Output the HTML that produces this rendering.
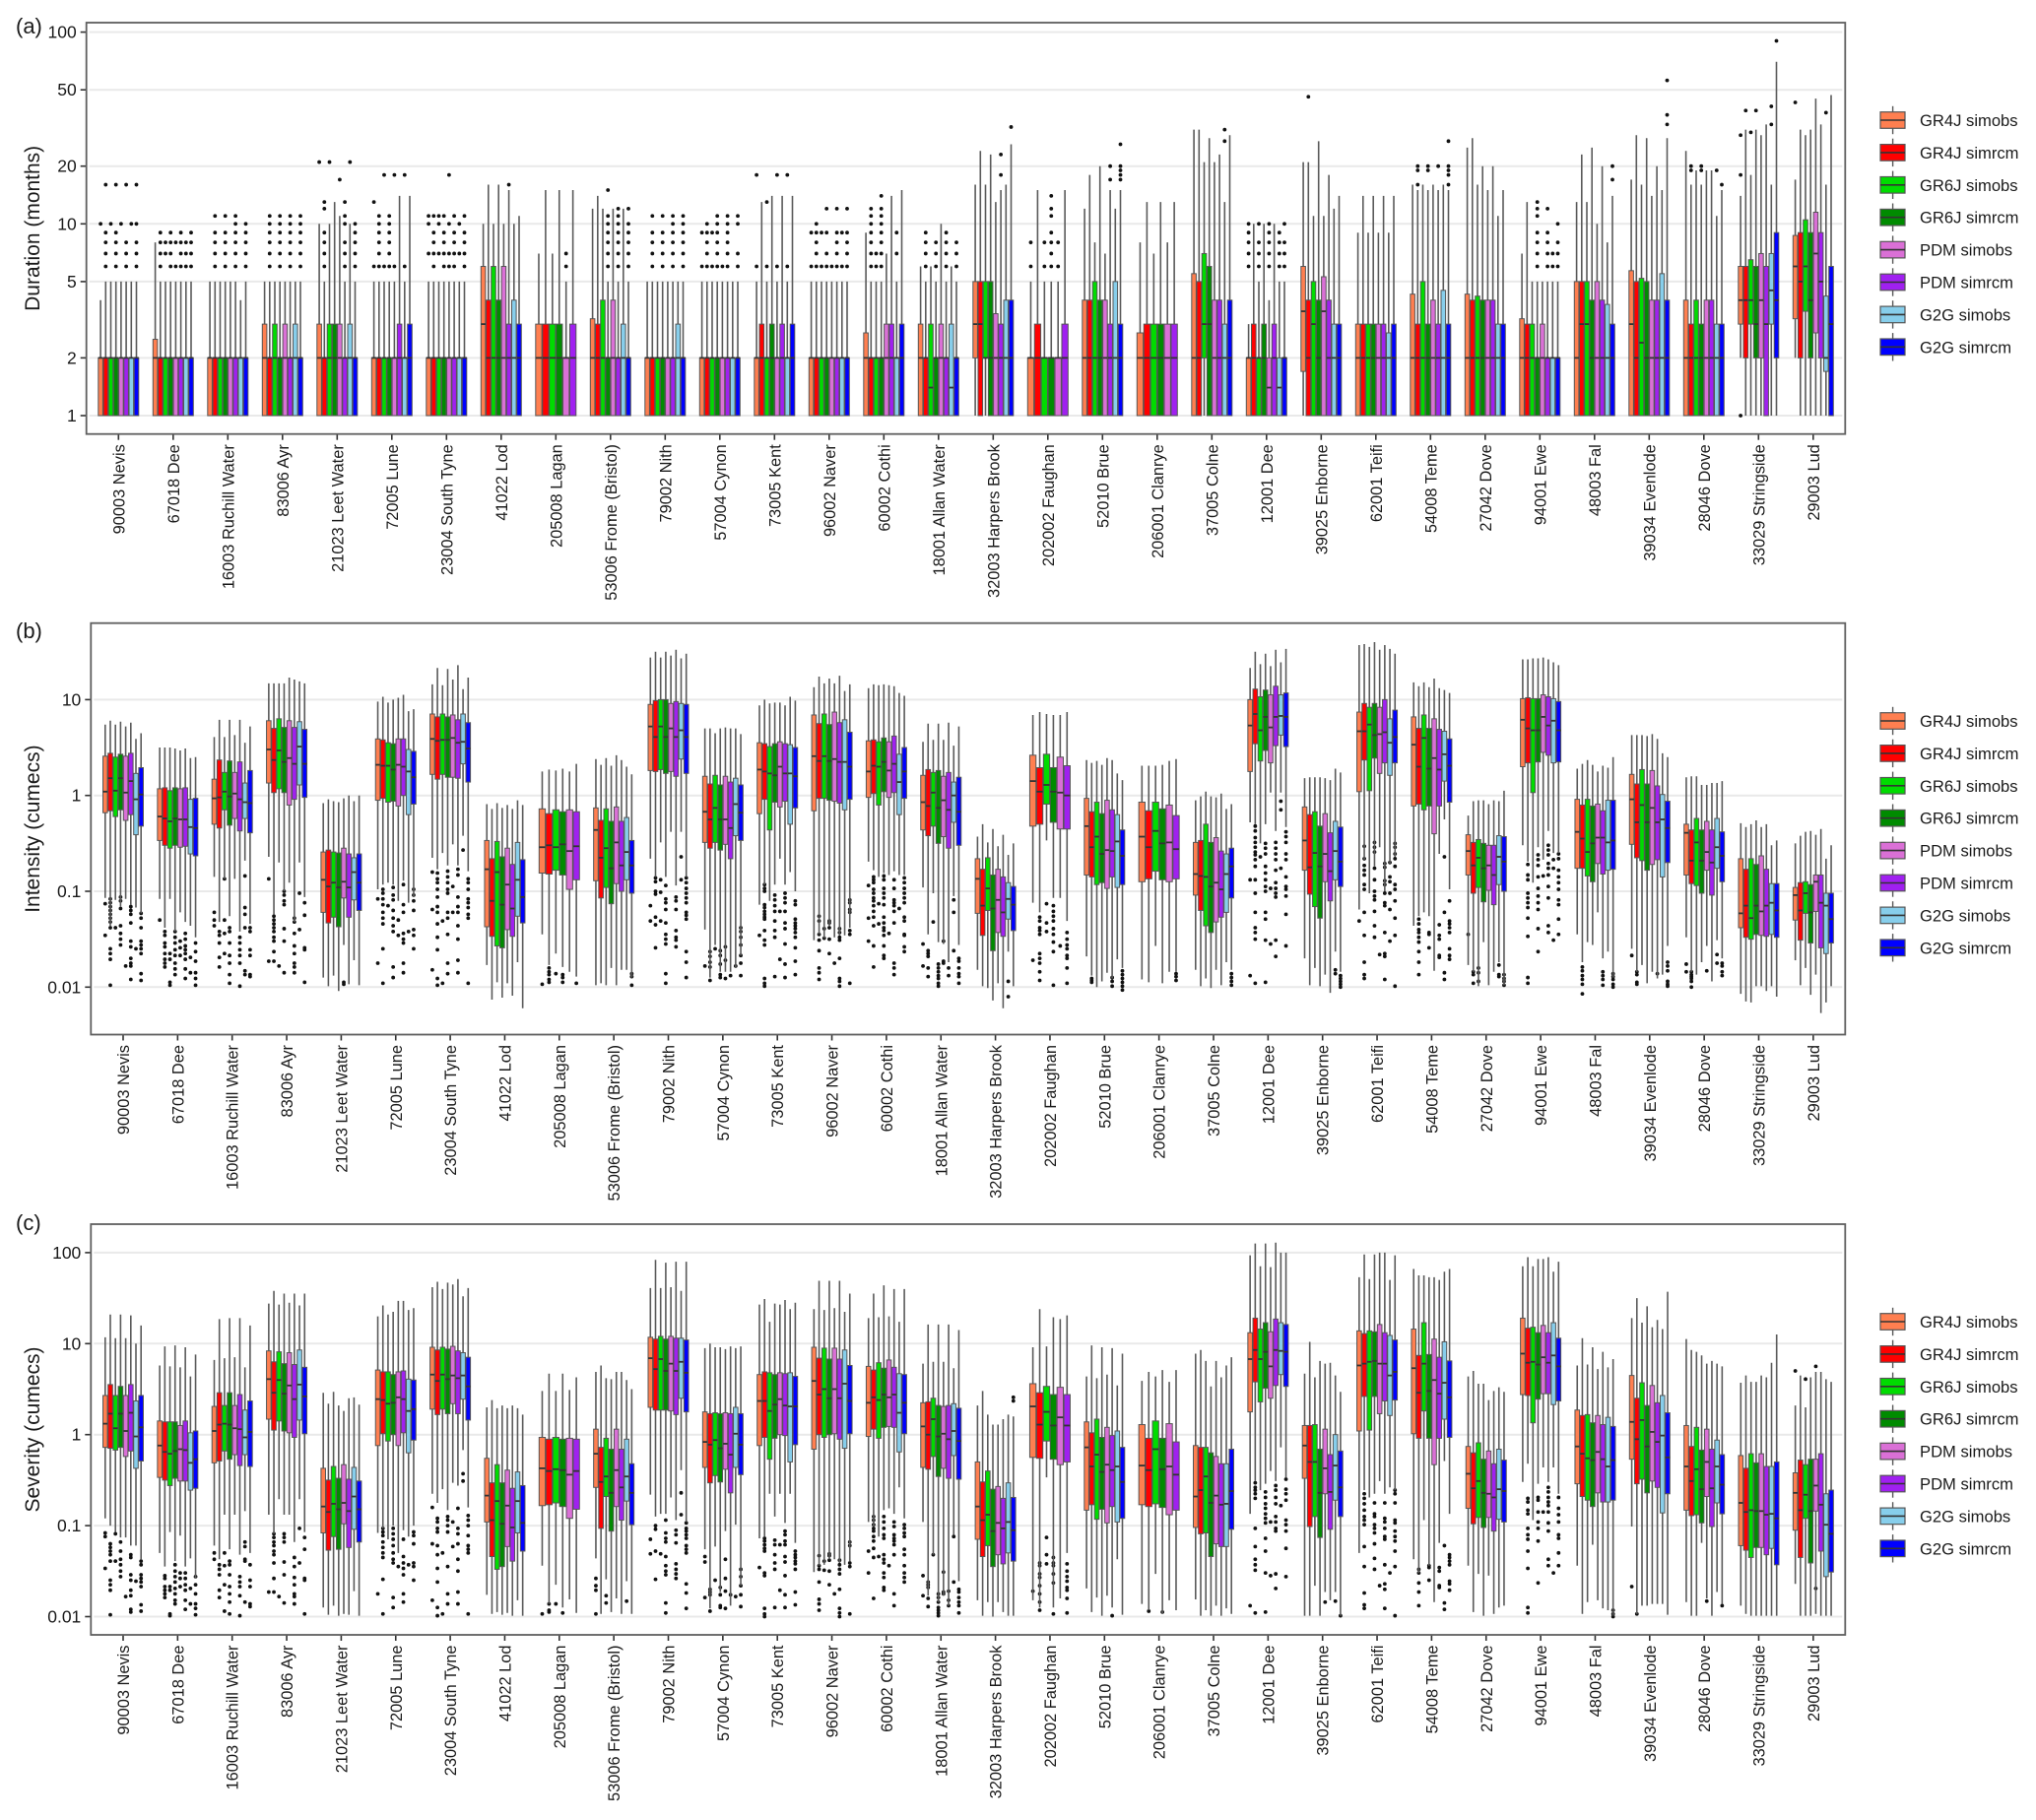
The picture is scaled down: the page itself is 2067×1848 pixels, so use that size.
<!DOCTYPE html>
<html lang="en">
<head>
<meta charset="utf-8">
<title>Drought duration, intensity and severity by catchment</title>
<style>
html,body{margin:0;padding:0;background:#fff;}
body{width:2067px;height:1848px;overflow:hidden;}
svg{display:block;font-family:"Liberation Sans",Arial,sans-serif;}
</style>
</head>
<body>
<svg id="chart" xmlns="http://www.w3.org/2000/svg" width="2067" height="1848" viewBox="0 0 2067 1848"></svg>
<script>
const catchments=["90003 Nevis","67018 Dee","16003 Ruchill Water","83006 Ayr","21023 Leet Water","72005 Lune","23004 South Tyne","41022 Lod","205008 Lagan","53006 Frome (Bristol)","79002 Nith","57004 Cynon","73005 Kent","96002 Naver","60002 Cothi","18001 Allan Water","32003 Harpers Brook","202002 Faughan","52010 Brue","206001 Clanrye","37005 Colne","12001 Dee","39025 Enborne","62001 Teifi","54008 Teme","27042 Dove","94001 Ewe","48003 Fal","39034 Evenlode","28046 Dove","33029 Stringside","29003 Lud"];
const models=["GR4J simobs","GR4J simrcm","GR6J simobs","GR6J simrcm","PDM simobs","PDM simrcm","G2G simobs","G2G simrcm"];
const modelColors=["#ff7f50","#ff0000","#00dc00","#008b00","#da70d6","#a020f0","#87ceeb","#0000ff"];
const durationTicks=[1,2,5,10,20,50,100];
const intensityTicks=[0.01,0.1,1,10];
const severityTicks=[0.01,0.1,1,10,100];

/* (a) Duration, months */
const durHi=[[4,5,5,5,5,5,5,5],[8,5,5,5,5,5,5,5],[5,5,5,5,5,5,4,5],[5,5,5,5,5,5,5,5],[10,5,10,13,11,5,10,5],[5,5,5,5,5,14,5,14],[5,5,5,5,5,5,5,5],[10,16,10,16,10,15,10,11],[7,15,7,15,5,15],[12,14,12,5,12,5,12,5],[5,5,5,5,5,5,5,5],[5,5,5,5,5,5,5,5],[5,13,5,14,5,14,5,14],[5,5,5,5,5,5,5,5],[9,5,5,5,7,14,5,15],[6,5,6,5,10,5,6,5],[16,24,16,23,13,15,16,26],[5,15,5,5,5,15],[12,18,8,20,7,15,12,15],[8,13,7,13,8,13],[31,31,21,28,21,23,13,29],[3,10,5,10,4,10,5,5],[21,21,11,27,11,18,12,14],[9,14,9,14,9,14,9,14],[16,15,16,15,16,15,16,15],[25,28,16,20,15,20,11,15],[7,13,5,5,5,5,5,5],[13,23,13,25,10,20,8,14],[17,29,16,28,14,20,15,28],[24,16,19,16,19,19,11,15],[14,31,18,31,29,33,16,70],[17,31,29,31,45,33,16,47]];
const durQ3=[[2,2,2,2,2,2,2,2],[2.5,2,2,2,2,2,2,2],[2,2,2,2,2,2,2,2],[3,2,3,2,3,2,3,2],[3,2,3,3,3,2,3,2],[2,2,2,2,2,3,2,3],[2,2,2,2,2,2,2,2],[6,4,6,4,6,3,4,3],[3,3,3,3,2,3],[3.2,3,4,2,4,2,3,2],[2,2,2,2,2,2,3,2],[2,2,2,2,2,2,2,2],[2,3,2,3,2,3,2,3],[2,2,2,2,2,2,2,2],[2.7,2,2,2,3,3,2,3],[3,2,3,2,3,2,3,2],[5,5,5,5,3.4,3,4,4],[2,3,2,2,2,3],[4,4,5,4,4,3,5,3],[2.7,3,3,3,3,3],[5.5,5,7,6,4,4,3,4],[2,3,2,3,2,3,2,2],[6,4,5,4,5.3,4,3,3],[3,3,3,3,3,3,2.7,3],[4.3,3,5,3,4,3,4.5,3],[4.3,4,4.2,4,4,4,3,3],[3.2,3,3,2,3,2,2,2],[5,5,5,4,5,4,3.8,3],[5.7,5,5.2,5,4,4,5.5,4],[4,3,4,3,4,4,3,3],[6,6,6.5,6,7,6,7,9],[8.7,9,10.5,9,11.5,9,4.2,6]];
const durMed=[[2,2,2,2,2,2,2,2],[2,2,2,2,2,2,2,2],[2,2,2,2,2,2,2,2],[2,2,2,2,2,2,2,2],[2,2,2,2,2,2,2,2],[2,2,2,2,2,2,2,2],[2,2,2,2,2,2,2,2],[3,2,2,2,2,2,2,2],[2,2,2,2,2,2],[2,2,2,2,2,2,2,2],[2,2,2,2,2,2,2,2],[2,2,2,2,2,2,2,2],[2,2,2,2,2,2,2,2],[2,2,2,2,2,2,2,2],[2,2,2,2,2,2,2,2],[2,2,1.4,2,2,2,1.4,2],[3,3,2,2,2,2,2,2],[2,2,2,2,2,2],[2,2,2,2,2,2,2,2],[2,2,2,2,2,2],[2,2,3,3,2,2,2,2],[2,2,2,2,1.4,2,1.4,2],[3.5,2,3,2,3.5,2,2,2],[2,2,2,2,2,2,2,2],[2,2,2,2,2,2,2,2],[2,2,2,2,2,2,2,2],[2,2,2,2,2,2,2,2],[2,3,3,2,2,2,2,2],[3,2,2.4,2,2,2,2,2],[2,2,2,2,2,2,2,2],[4,4,4,3,4,3,4.5,4],[6,5,6,4,7,5,2,3]];
const durQ1=[[1,1,1,1,1,1,1,1],[1,1,1,1,1,1,1,1],[1,1,1,1,1,1,1,1],[1,1,1,1,1,1,1,1],[1,1,1,1,1,1,1,1],[1,1,1,1,1,1,1,1],[1,1,1,1,1,1,1,1],[1,1,1,1,1,1,1,1],[1,1,1,1,1,1],[1,1,1,1,1,1,1,1],[1,1,1,1,1,1,1,1],[1,1,1,1,1,1,1,1],[1,1,1,1,1,1,1,1],[1,1,1,1,1,1,1,1],[1,1,1,1,1,1,1,1],[1,1,1,1,1,1,1,1],[2,1,2,1,1,1,1,1],[1,1,1,1,1,1],[1,1,1,1,1,1,1,1],[1,1,1,1,1,1],[1,1,2,1,1,1,1,1],[1,1,1,1,1,1,1,1],[1.7,1,1,1,1,1,1,1],[1,1,1,1,1,1,1,1],[1,1,1,1,1,1,1,1],[1,1,1,1,1,1,1,1],[1,1,1,1,1,1,1,1],[1,1,1,1,1,1,1,1],[1,1,1,1,1,1,1,1],[1,1,1,1,1,1,1,1],[3,2,3,2,2,1,3,2],[3.2,2,3.5,2,2.7,2,1.7,1]];
const durLo=[[1,1,1,1,1,1,1,1],[1,1,1,1,1,1,1,1],[1,1,1,1,1,1,1,1],[1,1,1,1,1,1,1,1],[1,1,1,1,1,1,1,1],[1,1,1,1,1,1,1,1],[1,1,1,1,1,1,1,1],[1,1,1,1,1,1,1,1],[1,1,1,1,1,1],[1,1,1,1,1,1,1,1],[1,1,1,1,1,1,1,1],[1,1,1,1,1,1,1,1],[1,1,1,1,1,1,1,1],[1,1,1,1,1,1,1,1],[1,1,1,1,1,1,1,1],[1,1,1,1,1,1,1,1],[1,1,1,1,1,1,1,1],[1,1,1,1,1,1],[1,1,1,1,1,1,1,1],[1,1,1,1,1,1],[1,1,1,1,1,1,1,1],[1,1,1,1,1,1,1,1],[1,1,1,1,1,1,1,1],[1,1,1,1,1,1,1,1],[1,1,1,1,1,1,1,1],[1,1,1,1,1,1,1,1],[1,1,1,1,1,1,1,1],[1,1,1,1,1,1,1,1],[1,1,1,1,1,1,1,1],[1,1,1,1,1,1,1,1],[2,1,1,1,1,1,1,1],[2,1,1,1,1,1,1,1]];
const durOut=[
[[10],[16,9,8,7,6],[10],[16,9,8,7,6],[10],[16,8,7,6],[10],[16,10,8,7,6]],
[[],[9,8,7,6],[8,7],[9,8,7,6],[8,6],[9,8,7,6],[8,7,6],[9,8,7,6]],
[[],[11,9,8,7,6],[],[11,9,8,7,6],[],[11,10,9,8,7,6],[],[10,9,8,7,6]],
[[],[11,10,9,8,7,6],[],[11,10,9,8,7,6],[],[11,10,9,8,7,6],[],[11,10,9,8,7,6]],
[[21],[13,12,9,8,7,6],[21],[],[17],[13,11,10,8,7,6],[21],[10,9,8,7,6]],
[[13,6],[11,10,9,8,7,6],[18,6],[11,10,9,8,7,6],[18,6],[],[18,6],[]],
[[11,10,7],[11,9,8,7,6],[11,10,7],[11,9,8,7,6],[18,10,7,6],[11,9,8,7,6],[10,7],[11,9,8,7,6]],
[[],[],[],[],[],[16],[],[]],
[[],[],[],[],[7,6],[]],
[[],[],[],[15,11,10,9,8,7,6],[],[12,11,10,9,8,7,6],[],[12,10,9,8,7,6]],
[[],[11,9,8,7,6],[],[11,9,8,7,6],[],[11,10,9,8,7,6],[],[11,10,9,8,7,6]],
[[9,6],[10,9,8,7,6],[9,6],[11,10,9,8,7,6],[6],[11,10,9,8,7,6],[],[11,10,7,6]],
[[18,6],[],[13,6],[],[18,6],[],[18,6],[]],
[[9,6],[10,9,8,7,6],[9,6],[12,9,7,6],[6],[12,9,8,7,6],[9,6],[12,9,8,7,6]],
[[],[12,11,10,9,8,7,6],[7,6],[14,12,11,10,9,8,7,6],[],[],[9,7],[]],
[[],[9,8,7,6],[],[8,7,6],[],[9,8,7,6],[],[8,7,6]],
[[],[],[],[],[],[23,18],[],[32]],
[[8,6],[],[8,6],[14,12,11,9,8,7,6],[8,6],[]],
[[],[],[],[],[],[20,17],[],[26,20,19,18,17]],
[[],[],[],[],[],[]],
[[],[],[],[],[],[],[31,27],[]],
[[10,9,8,7,6],[],[10,8,7,6],[],[10,9,8,7,6],[],[9,8,7,6],[10,8,7,6]],
[[],[46],[],[],[],[],[],[]],
[[],[],[],[],[],[],[],[]],
[[],[20,19,16],[],[20,19],[],[20],[],[27,20,19,18,16]],
[[],[],[],[],[],[],[],[]],
[[],[],[],[13,12,11,9,8,7,6],[],[12,9,8,7,6],[7,6],[10,8,7,6]],
[[],[],[],[],[],[],[],[20,17]],
[[],[],[],[],[],[],[],[56,37,33]],
[[],[20,19],[],[20,19],[],[],[19],[16]],
[[29,18,1],[39],[30],[39],[],[],[41,33],[90]],
[[43],[],[],[],[],[],[38],[]]
];

/* (b) Intensity: all values stored as log10(cumecs) */
const intHi=[[.74,.78,.74,.77,.72,.76,.59,.65],[.5,.5,.5,.49,.47,.49,.39,.4],[.61,.79,.61,.79,.63,.79,.55,.72],[1.17,1.17,1.17,1.17,1.23,1.21,1.19,1.17],[-.08,-.04,-.06,-.07,-.03,0,-.06,0],[.98,1.03,.97,1,1.02,1.05,.88,.9],[1.16,1.33,1.15,1.32,1.21,1.36,1.11,1.23],[-.09,-.14,-.08,-.13,-.1,-.14,-.05,-.1],[.25,.27,.26,.28,.25,.33],[.38,.32,.39,.31,.42,.37,.3,.22],[1.44,1.5,1.44,1.5,1.46,1.52,1.43,1.48],[.7,.7,.65,.7,.71,.7,.7,.64],[.94,1,.96,.97,.97,.94,1.03,.99],[1.13,1.24,1.17,1.22,1.17,1.25,1.09,1.16],[1.12,1.16,1.15,1.16,1.15,1.14,1.07,1.04],[.56,.75,.58,.75,.58,.76,.52,.72],[-.43,-.3,-.49,-.35,-.53,-.41,-.62,-.5],[.84,.87,.85,.84,.84,.87],[.37,.34,.36,.32,.39,.37,.23,.16],[.31,.31,.31,.32,.36,.38],[-.05,-.01,.04,-.01,-.02,.02,-.14,-.09],[1.33,1.5,1.37,1.48,1.35,1.52,1.39,1.53],[.18,.19,.19,.19,.18,.16,.28,.24],[1.57,1.58,1.55,1.6,1.52,1.57,1.53,1.48],[1.18,1.14,1.18,1.13,1.22,1.12,1.1,1.07],[-.21,-.06,-.05,-.05,-.09,-.05,-.06,.05],[1.42,1.42,1.43,1.43,1.44,1.42,1.39,1.36],[.28,.33,.37,.32,.25,.31,.29,.4],[.63,.63,.63,.62,.64,.59,.44,.4],[.19,.2,.2,.11,.11,.13,.13,.15],[-.29,-.33,-.3,-.26,-.33,-.3,-.52,-.47],[-.5,-.42,-.38,-.37,-.41,-.35,-.66,-.52]];
const intQ3=[[.41,.44,.4,.43,.41,.44,.23,.29],[.07,.08,.05,.08,.07,.08,-.04,-.03],[.17,.37,.24,.36,.24,.35,.13,.26],[.78,.7,.8,.71,.78,.71,.77,.69],[-.59,-.57,-.59,-.6,-.55,-.61,-.65,-.61],[.59,.58,.55,.54,.59,.59,.48,.46],[.85,.82,.85,.82,.84,.79,.85,.76],[-.47,-.66,-.48,-.64,-.55,-.72,-.49,-.67],[-.14,-.19,-.15,-.17,-.15,-.17],[-.13,-.26,-.14,-.27,-.12,-.27,-.23,-.47],[.95,.99,1,1,.96,.98,.96,.95],[.2,.12,.21,.11,.2,.14,.18,.11],[.55,.54,.51,.54,.56,.54,.53,.5],[.84,.75,.85,.74,.87,.76,.79,.66],[.57,.58,.56,.6,.56,.62,.43,.5],[.21,.27,.24,.26,.2,.24,.14,.19],[-.66,-.77,-.65,-.83,-.77,-.85,-.91,-.95],[.42,.29,.43,.29,.4,.31],[-.03,-.17,-.07,-.19,-.05,-.15,-.2,-.36],[-.07,-.16,-.07,-.14,-.1,-.21],[-.49,-.47,-.3,-.49,-.44,-.58,-.61,-.55],[1,1.11,1.03,1.1,1.05,1.14,1.05,1.07],[-.12,-.2,-.17,-.32,-.19,-.39,-.27,-.33],[.87,.96,.92,.96,.92,1,.8,.89],[.82,.7,.84,.7,.8,.69,.67,.59],[-.41,-.49,-.46,-.5,-.52,-.52,-.42,-.43],[1.01,1.02,1.01,1.01,1.05,1.03,1.01,.98],[-.04,-.1,-.04,-.11,-.09,-.16,-.05,-.05],[.22,.12,.27,.12,.26,.1,.01,-.06],[-.3,-.36,-.24,-.36,-.27,-.36,-.24,-.38],[-.66,-.77,-.66,-.72,-.63,-.77,-.92,-.92],[-.96,-.91,-.9,-.93,-.83,-.83,-1.02,-1.02]];
const intMed=[[.04,.18,.05,.18,.03,.15,-.04,.01],[-.22,-.24,-.27,-.24,-.25,-.25,-.33,-.34],[-.03,-.02,.04,-.01,.02,-.04,-.07,-.08],[.48,.37,.47,.35,.39,.33,.51,.33],[-.88,-.95,-.91,-.96,-.9,-.96,-.8,-.91],[.32,.31,.31,.27,.32,.3,.25,.19],[.59,.57,.58,.58,.6,.55,.56,.49],[-.77,-1.1,-.8,-1.14,-.93,-1.18,-.88,-1.06],[-.54,-.52,-.54,-.51,-.58,-.53],[-.36,-.65,-.55,-.76,-.49,-.73,-.59,-.73],[.72,.61,.72,.61,.7,.61,.68,.61],[-.17,-.25,-.13,-.25,-.25,-.34,-.09,-.18],[.27,.25,.23,.21,.3,.23,.23,.2],[.41,.36,.41,.36,.38,.35,.35,.3],[.25,.31,.3,.35,.26,.33,.14,.25],[-.07,-.11,.03,-.13,-.05,-.15,0,-.17],[-.87,-1.15,-.97,-1.18,-1.09,-1.22,-1.08,-1.14],[.15,.04,.11,.04,.03,0],[-.32,-.54,-.43,-.61,-.57,-.58,-.48,-.63],[-.43,-.54,-.37,-.5,-.49,-.56],[-.82,-.84,-.85,-.95,-.91,-.98,-.82,-.74],[.73,.85,.68,.82,.71,.82,.83,.82],[-.47,-.75,-.6,-.74,-.61,-.79,-.58,-.69],[.67,.67,.74,.63,.64,.66,.55,.61],[.53,.3,.6,.28,.39,.27,.43,.31],[-.58,-.73,-.65,-.76,-.73,-.83,-.64,-.69],[.79,.7,.68,.68,.82,.73,.78,.68],[-.38,-.45,-.59,-.5,-.44,-.44,-.49,-.47],[-.04,-.28,-.1,-.28,-.13,-.28,-.25,-.34],[-.39,-.68,-.49,-.68,-.59,-.7,-.54,-.63],[-1.23,-1.15,-1.28,-1.15,-1.21,-1.15,-1.12,-1.2],[-1.04,-1.2,-1.02,-1.22,-.9,-1.12,-1.15,-1.29]];
const intQ1=[[-.18,-.16,-.22,-.15,-.26,-.2,-.41,-.32],[-.47,-.52,-.55,-.52,-.54,-.53,-.61,-.63],[-.3,-.34,-.15,-.31,-.24,-.37,-.24,-.39],[.13,.03,.07,.03,-.1,-.04,.11,-.02],[-1.22,-1.33,-1.27,-1.37,-1.07,-1.27,-1.09,-1.2],[-.05,-.03,-.07,-.06,-.11,0,-.2,-.09],[.22,.17,.22,.19,.19,.18,.33,.14],[-1.37,-1.47,-1.57,-1.59,-1.4,-1.47,-1.26,-1.33],[-.81,-.82,-.78,-.83,-.98,-.88],[-.89,-1.07,-.96,-1.13,-.92,-1,-.88,-1.02],[.26,.25,.27,.23,.25,.2,.38,.23],[-.49,-.55,-.49,-.57,-.51,-.66,-.42,-.47],[-.19,-.04,-.36,-.07,-.12,-.06,-.3,-.13],[-.16,-.03,-.03,-.05,-.06,-.08,-.15,-.04],[-.02,.02,-.1,.04,-.02,.03,-.2,-.03],[-.36,-.42,-.32,-.5,-.43,-.55,-.28,-.52],[-1.23,-1.46,-1.2,-1.62,-1.43,-1.47,-1.29,-1.41],[-.32,-.3,-.09,-.28,-.35,-.35],[-.83,-.85,-.93,-.91,-.97,-.85,-.96,-.93],[-.9,-.87,-.79,-.88,-.9,-.87],[-1.04,-1.2,-1.36,-1.43,-1.32,-1.27,-1.22,-1.07],[.25,.54,.36,.47,.34,.52,.63,.51],[-.78,-1.03,-1.16,-1.28,-.9,-1.1,-.88,-.95],[.04,.37,.05,.39,.23,.34,.21,.34],[-.11,-.09,-.15,-.11,-.4,-.11,.15,-.07],[-.83,-1.02,-.96,-1.11,-.99,-1.14,-.93,-1],[.3,.34,.03,.35,.45,.42,.34,.35],[-.76,-.76,-.84,-.9,-.71,-.82,-.78,-.77],[-.51,-.65,-.68,-.78,-.72,-.67,-.85,-.7],[-.83,-.92,-.94,-1.02,-.78,-1.04,-.76,-.9],[-1.38,-1.48,-1.5,-1.45,-1.46,-1.47,-1.45,-1.48],[-1.3,-1.51,-1.23,-1.54,-1.21,-1.59,-1.65,-1.54]];
const intLo=[[-1.07,-1.36,-1.09,-1.16,-1.08,-1.14,-1.17,-1.23],[-1.08,-1.38,-1.08,-1.42,-1.22,-1.32,-1.36,-1.48],[-.85,-1.32,-.87,-1.26,-.87,-1.42,-.68,-1.34],[-.64,-1.24,-.7,-1,-.91,-1.32,-.7,-1.06],[-1.9,-1.99,-1.88,-2.04,-1.56,-1.97,-1.72,-1.98],[-.98,-.93,-.91,-.93,-1.1,-.89,-1.12,-1.06],[-.65,-.77,-.6,-.73,-.51,-.73,-.42,-.79],[-1.77,-2.13,-1.95,-2.11,-1.96,-2.09,-1.74,-2.22],[-1.45,-1.77,-1.65,-1.79,-1.84,-1.89],[-1.98,-1.96,-1.98,-1.8,-1.98,-1.82,-1.82,-1.9],[-.66,-.85,-.49,-.85,-.38,-.94,-.38,-.85],[-1.4,-1.9,-1.56,-1.84,-1.84,-1.84,-1.8,-1.67],[-1.14,-.93,-1.1,-.93,-.66,-.93,-.8,-1],[-1.51,-1.45,-1.49,-1.36,-1.48,-1.46,-1.46,-1.38],[-.69,-.78,-.85,-.81,-.83,-.79,-.83,-.83],[-.96,-1.45,-1.02,-1.53,-1.55,-1.74,-1.05,-1.56],[-1.82,-1.99,-2.01,-2.14,-1.96,-2.22,-1.63,-1.99],[-1.12,-1.22,-.47,-1.07,-1.07,-1.31],[-1.68,-1.88,-2,-1.94,-1.85,-1.91,-1.71,-1.8],[-1.92,-1.95,-1.57,-1.96,-1.84,-1.84],[-1.82,-1.99,-1.91,-2.01,-1.82,-1.98,-1.74,-1.82],[-.28,-.3,-.5,-.3,.03,-.37,.03,-.33],[-1.7,-1.98,-1.8,-1.99,-1.87,-2.06,-1.63,-1.84],[-1.19,-.67,-1.02,-.74,-.54,-1,-.71,-.64],[-1.36,-1.26,-1.22,-1.26,-1.83,-.61,-.25,-.98],[-1.77,-1.84,-1.99,-1.53,-1.98,-1.84,-1.74,-1.98],[-.52,-.69,-.91,-.54,-.67,-.37,-.6,-.6],[-1.45,-1.74,-1.53,-1.56,-1.22,-1.7,-1.63,-1.9],[-1.6,-1.84,-1.77,-1.96,-1.84,-1.91,-1.87,-1.57],[-1.48,-1.84,-1.87,-1.74,-1.57,-1.94,-1.51,-1.7],[-2.07,-2.15,-2.16,-1.99,-1.99,-2.04,-1.99,-2.1],[-1.72,-1.98,-1.8,-2.08,-1.87,-2.27,-2.16,-1.99]];
const intOut=[
[[-1.13,-1.46],[-1.08,-1.12,-1.16,-1.2,-1.24,-1.28,-1.32,-1.38,-1.6,-1.65,-1.71,-1.98],[-1.38],[-1.06,-1.1,-1.18,-1.36,-1.44,-1.5,-1.56],[-1.78],[-1.16,-1.2,-1.24,-1.33,-1.52,-1.58,-1.7,-1.75,-1.78,-1.92],[-1.6],[-1.23,-1.28,-1.38,-1.52,-1.56,-1.6,-1.65,-1.86,-1.93]],
[[-1.3],[-1.42,-1.46,-1.54,-1.58,-1.65,-1.71,-1.75,-1.79],[-1.65,-1.71,-1.95,-1.98],[-1.42,-1.48,-1.54,-1.61,-1.67,-1.75,-1.81,-1.87],[-1.52,-1.59,-1.67],[-1.44,-1.5,-1.57,-1.61,-1.65,-1.71,-1.81,-1.91],[-1.69,-1.85],[-1.54,-1.63,-1.73,-1.85,-1.91,-1.98]],
[[-1.22,-1.3,-1.36],[-1.42,-1.46,-1.54,-1.69,-1.79],[-.87,-1.3,-1.44,-1.65],[-1.38,-1.42,-1.54,-1.67,-1.75,-1.87,-1.96],[],[-1.48,-1.54,-1.61,-1.67,-1.75,-1.99],[-.84,-1.17,-1.24,-1.38,-1.83,-1.87],[-1.38,-1.42,-1.61,-1.67,-1.87,-1.89]],
[[-.87,-1.73],[-1.26,-1.3,-1.34,-1.38,-1.42,-1.48,-1.52,-1.63,-1.73],[-1.78],[-1,-1.04,-1.1,-1.14,-1.39,-1.52,-1.85],[],[-1.28,-1.32,-1.44,-1.57,-1.65,-1.75,-1.79,-1.85],[-1.02,-1.4],[-1.12,-1.25,-1.59,-1.61,-1.95]],
[[],[],[],[],[-1.95,-1.97],[],[],[]],
[[-1.08,-1.75],[-.98,-1.02,-1.08,-1.14,-1.22,-1.28,-1.34,-1.6,-1.96],[-1.15],[-.96,-1.04,-1.09,-1.2,-1.28,-1.36,-1.42,-1.79,-1.9],[-1.3,-1.46],[-.93,-1.14,-1.22,-1.44,-1.5,-1.54,-1.75,-1.85],[-1.42],[-.98,-1.04,-1.1,-1.2,-1.4,-1.46,-1.6]],
[[-.8,-1.19,-1.82],[-.81,-.87,-.91,-.98,-1.06,-1.16,-1.22,-1.34,-1.48,-1.61,-1.91,-1.98],[-1.31,-1.96],[-.79,-.85,-.91,-.98,-1.02,-1.22,-1.28,-1.45,-1.75,-1.86],[-.95,-1.22],[-.77,-.83,-1.06,-1.16,-1.22,-1.36,-1.5,-1.72,-1.85],[-.57],[-.87,-.91,-.98,-1.08,-1.12,-1.17,-1.24,-1.28,-1.96]],
[[],[],[],[],[],[],[],[]],
[[-1.97],[-1.8,-1.84,-1.87,-1.92,-1.95],[-1.86],[-1.87,-1.9,-1.95],[],[-1.96]],
[[],[],[],[],[],[],[],[-1.86,-1.89,-1.98]],
[[-1.15,-1.31],[-.86,-.9,-1,-1.03,-1.27,-1.35,-1.59],[-.88,-1.01,-1.31],[-.94,-1.08,-1.12,-1.19,-1.33,-1.45,-1.5,-1.55,-1.86,-1.96],[],[-1.06,-1.1,-1.19,-1.41,-1.48,-1.51,-1.58],[-.64,-.88],[-.86,-.91,-.97,-1.02,-1.07,-1.12,-1.22,-1.25,-1.29,-1.63,-1.74,-1.9]],
[[-1.78],[-1.63,-1.68,-1.74,-1.79,-1.93],[-1.6],[-1.62,-1.67,-1.76,-1.87,-1.9],[-1.58,-1.72,-1.91],[-1.88],[-1.78],[-1.38,-1.42,-1.48,-1.56,-1.67,-1.75,-1.88]],
[[-1.46],[-.93,-.97,-1,-1.14,-1.17,-1.21,-1.24,-1.27,-1.29,-1.41,-1.51,-1.56,-1.91,-1.96,-1.99],[],[-1.04,-1.09,-1.15,-1.21,-1.31,-1.41,-1.48,-1.89],[-1.21,-1.71],[-1.02,-1.07,-1.12,-1.21,-1.33,-1.39,-1.55,-1.76,-1.9],[],[-1.1,-1.14,-1.29,-1.33,-1.36,-1.39,-1.43,-1.48,-1.59,-1.73,-1.87]],
[[],[-1.26,-1.31,-1.45,-1.51,-1.62,-1.8,-1.85,-1.92],[-1.39,-1.49],[-1.31,-1.33,-1.38,-1.5,-1.65],[-1.75],[-1.39,-1.43,-1.48,-1.51,-1.7,-1.91,-1.94,-1.99],[],[-1.09,-1.12,-1.19,-1.22,-1.41,-1.45,-1.96]],
[[-.94,-1.28,-1.52],[-.85,-.88,-.91,-.98,-1.02,-1.07,-1.1,-1.15,-1.21,-1.27,-1.36,-1.57,-1.79],[-1.13,-1.34],[-.84,-.88,-.97,-1.02,-1.07,-1.14,-1.27,-1.33,-1.38,-1.41,-1.46,-1.57,-1.67,-1.7],[-1.44],[-.88,-.97,-1.09,-1.12,-1.15,-1.21,-1.33,-1.75,-1.8,-1.87],[-1.18],[-.86,-.91,-.97,-1.02,-1.07,-1.12,-1.27,-1.31,-1.45,-1.46,-1.58,-1.63]],
[[-1.55,-1.78],[-1.62,-1.65,-1.68,-1.8,-1.89],[-1.32],[-1.76,-1.8,-1.84,-1.88,-1.91,-1.96,-1.99],[-1.52,-1.73,-1.75],[-1.8,-1.88],[-1.09,-1.22,-1.62],[-1.7,-1.73,-1.8,-1.86,-1.89,-1.96]],
[[],[],[],[],[],[],[-1.94,-2.1],[]],
[[-1.72],[-1.27,-1.31,-1.38,-1.41,-1.45,-1.65,-1.7,-1.75,-1.84,-1.93],[-1.13,-1.33,-1.42],[-1.15,-1.21,-1.26,-1.31,-1.39,-1.45,-1.53,-1.63,-1.98],[-1.57],[-1.43,-1.5,-1.56,-1.6,-1.67,-1.7,-1.8,-1.96]],
[[],[-1.91,-1.93,-1.95],[],[],[],[-1.9,-1.94,-1.99],[],[-1.83,-1.87,-1.91,-1.95,-1.99,-2.03]],
[[],[],[],[],[],[-1.86,-1.89,-1.93]],
[[],[],[],[],[],[],[],[-1.86,-1.9,-1.94,-1.98]],
[[-.88,-1.88],[-.32,-.37,-.44,-.49,-.54,-.59,-.62,-.67,-.74,-.88,-1.02,-1.22,-1.38,-1.43,-1.5,-1.96],[-.64],[-.5,-.55,-.61,-.74,-.81,-.88,-.95,-1,-1.22,-1.29,-1.51,-1.95],[-.97,-1.55],[-.49,-.55,-.61,-.67,-.78,-.91,-.97,-1.02,-1.06,-1.51,-1.68],[-.06,-.15,-.76],[-.38,-.43,-.49,-.61,-.67,-.85,-.95,-.98,-1.05,-1.24,-1.57]],
[[],[],[],[],[],[],[-1.82,-1.86],[-1.88,-1.91,-1.94,-1.97,-2]],
[[-1.31],[-.53,-.66,-.73,-.78,-.83,-.93,-.98,-1.22,-1.46,-1.74,-1.87,-1.91],[],[-.49,-.54,-.59,-.76,-.88,-1,-1.05,-1.09,-1.21,-1.36,-1.48],[-1.66],[-.71,-.75,-.89,-.93,-1.02,-1.12,-1.15,-1.43,-1.65,-1.68,-1.92],[-.7,-.85,-.9,-1.02,-1.19,-1.52],[-.5,-.54,-.61,-.66,-.74,-.93,-.98,-1.1,-1.28,-1.46,-1.99]],
[[],[-1.29,-1.34,-1.4,-1.43,-1.48,-1.53,-1.63,-1.74,-1.87],[],[-1.43,-1.45,-1.59],[],[-1.35,-1.46,-1.5,-1.67,-1.69],[-.64,-1.22,-1.85,-1.92],[-1.1,-1.31,-1.34,-1.38,-1.43,-1.6,-1.67,-1.71]],
[[-1.45],[-1.84,-1.87,-1.96],[-1.8,-1.85,-1.94],[],[],[],[-1.77,-1.87,-1.89],[-1.87,-1.91,-1.94,-1.98]],
[[],[-.72,-.83,-.88,-1.02,-1.07,-1.12,-1.17,-1.28,-1.47,-1.9,-1.96],[],[-.62,-.67,-.73,-.85,-.97,-1.05,-1.12,-1.19,-1.39,-1.63],[-.84],[-.52,-.57,-.62,-.71,-.76,-.83,-.95,-1.07,-1.36,-1.43],[-.67,-.76,-1.51],[-.61,-.66,-.78,-.85,-.91,-.98,-1.09,-1.14,-1.29,-1.45]],
[[],[-1.79,-1.83,-1.88,-1.92,-1.97,-2.07],[],[],[],[-1.84,-1.88,-1.92,-1.98],[],[-1.86,-1.89,-1.92,-1.97,-2]],
[[-1.67],[-1.84,-1.87,-1.95,-1.97],[],[],[],[-1.86],[],[-1.74,-1.78,-1.83,-1.94,-1.97,-1.99]],
[[-1.76,-1.84],[-1.84,-1.87,-1.89,-1.91,-1.94,-2],[],[],[-1.83],[],[-1.66,-1.75],[-1.75,-1.78,-1.84,-1.88]],
[[],[],[],[],[],[],[],[]],
[[],[],[],[],[],[],[],[]]
];

/* (c) Severity: all values stored as log10(cumecs) */
const sevHi=[[1.07,1.32,1.06,1.32,1.06,1.31,1,1.2],[.76,.97,.75,.98,.74,.96,.64,.88],[.82,1.27,.84,1.28,.85,1.28,.74,1.2],[1.44,1.58,1.43,1.55,1.45,1.55,1.42,1.55],[.46,.34,.47,.32,.26,.4,.41,.33],[1.3,1.42,1.32,1.35,1.47,1.47,1.37,1.39],[1.62,1.68,1.6,1.67,1.65,1.71,1.52,1.61],[.3,.38,.29,.32,.29,.32,.29,.22],[.48,.67,.48,.67,.49,.63],[.69,.76,.62,.61,.69,.69,.6,.5],[1.61,1.92,1.61,1.89,1.62,1.9,1.58,1.9],[.95,1,.96,.96,.94,.97,.95,.97],[1.43,1.49,1.24,1.44,1.43,1.48,1.38,1.45],[1.38,1.69,1.37,1.69,1.39,1.69,1.35,1.55],[1.28,1.55,1.29,1.64,1.3,1.6,1.24,1.6],[.78,1.21,.8,1.21,.8,1.21,.73,1.15],[.32,.48,.22,.11,.11,.17,.22,.2],[.96,1.38,.97,1.29,1.27,1.31],[.64,.98,.62,.96,.66,.95,.54,.89],[.59,.69,.64,.71,.58,.71],[.89,.93,.81,.53,.81,.63,.76,.85],[1.97,2.1,1.85,2.1,1.84,2.11,2,2],[.67,1.02,.63,.81,.78,.79,.65,.47],[1.73,1.98,1.71,1.98,2,2,1.7,1.97],[1.82,1.75,1.75,1.73,1.73,1.7,1.79,1.82],[.64,.7,.56,.56,.38,.48,.52,.47],[1.85,1.95,1.85,1.93,1.93,1.95,1.79,1.9],[.76,1.06,.77,.96,.72,.91,.74,.83],[1.28,1.5,1.23,1.41,1.18,1.26,1.16,1.57],[1.05,.93,.91,.87,.78,.81,.78,.75],[.57,.65,.58,.58,.65,.63,.79,1.1],[.32,.65,.3,.63,.69,.69,.61,.58]];
const sevQ3=[[.43,.55,.43,.53,.43,.55,.37,.43],[.15,.14,.14,.14,.1,.15,.02,.04],[.31,.46,.32,.46,.32,.44,.27,.37],[.92,.8,.91,.78,.9,.77,.93,.74],[-.37,-.5,-.35,-.48,-.33,-.49,-.36,-.51],[.71,.69,.69,.66,.69,.7,.61,.6],[.96,.93,.96,.94,.97,.92,.9,.85],[-.26,-.53,-.33,-.53,-.39,-.59,-.41,-.56],[-.03,-.05,-.03,-.05,-.04,-.05],[.06,-.14,-.04,-.16,.06,-.16,-.05,-.32],[1.07,1.05,1.08,1.05,1.08,1.06,1.06,1.04],[.25,.23,.24,.23,.24,.23,.3,.23],[.66,.69,.68,.66,.68,.67,.68,.64],[.96,.84,.95,.83,.95,.83,.93,.76],[.75,.71,.79,.73,.82,.74,.67,.66],[.35,.36,.4,.32,.31,.32,.34,.29],[-.3,-.52,-.4,-.6,-.57,-.7,-.53,-.69],[.56,.46,.53,.44,.52,.44],[.14,.02,.17,-.03,.08,-.01,.04,-.14],[.11,-.04,.15,-.04,.12,-.08],[-.12,-.14,-.14,-.2,-.24,-.32,-.32,-.16],[1.12,1.28,1.16,1.23,1.13,1.27,1.23,1.21],[.1,.1,.11,-.16,.06,-.22,0,-.18],[1.14,1.11,1.14,1.13,1.21,1.12,1.09,1.04],[1.16,.87,1.23,.88,1.05,.85,1.02,.81],[-.13,-.2,-.09,-.27,-.18,-.32,-.16,-.28],[1.28,1.17,1.18,1.12,1.2,1.12,1.23,1.06],[.27,.21,.22,.13,.21,.11,.19,.09],[.65,.4,.57,.32,.54,.35,.43,.24],[.1,-.13,.08,-.17,.06,-.16,-.06,-.22],[-.23,-.37,-.21,-.31,-.21,-.35,-.35,-.3],[-.42,-.28,-.33,-.27,-.27,-.21,-.65,-.61]];
const sevMed=[[.12,.23,.07,.23,.04,.24,-.02,.08],[-.12,-.19,-.21,-.18,-.16,-.17,-.31,-.27],[.04,.11,.12,.11,.07,.06,-.03,.03],[.61,.46,.6,.45,.54,.39,.55,.42],[-.79,-.85,-.76,-.82,-.75,-.84,-.68,-.82],[.39,.38,.34,.35,.41,.39,.26,.28],[.66,.59,.66,.61,.65,.62,.65,.53],[-.67,-.94,-.73,-.98,-.78,-1.02,-.73,-.97],[-.37,-.4,-.38,-.39,-.44,-.4],[-.21,-.52,-.46,-.64,-.39,-.58,-.46,-.64],[.84,.72,.83,.7,.78,.7,.8,.68],[-.08,-.11,-.06,-.15,-.1,-.22,.01,-.11],[.37,.37,.26,.33,.39,.32,.31,.31],[.59,.44,.5,.4,.5,.4,.56,.37],[.35,.41,.38,.44,.41,.44,.24,.35],[.09,0,.17,-.02,.01,-.05,.04,-.07],[-.79,-.94,-.88,-1.06,-.97,-1.03,-.96,-1.05],[.31,.11,.25,.1,.19,.1],[-.14,-.35,-.22,-.41,-.33,-.39,-.35,-.52],[-.34,-.39,-.16,-.38,-.35,-.44],[-.68,-.61,-.46,-.75,-.67,-.77,-.76,-.62],[.83,.93,.83,.91,.75,.93,.92,.91],[-.12,-.3,-.3,-.64,-.37,-.63,-.34,-.58],[.76,.78,.8,.81,.78,.78,.65,.69],[.73,.46,.78,.48,.6,.45,.57,.41],[-.43,-.59,-.51,-.64,-.65,-.69,-.6,-.62],[.89,.79,.8,.77,.85,.79,.87,.75],[-.13,-.21,-.26,-.28,-.19,-.27,-.35,-.28],[.14,-.05,.16,-.13,.03,-.08,-.01,-.25],[-.35,-.51,-.38,-.6,-.3,-.59,-.35,-.55],[-.75,-.85,-.83,-.84,-.84,-.88,-.87,-.92],[-.64,-.83,-.66,-.84,-.56,-.77,-.99,-1.09]];
const sevQ1=[[-.14,-.15,-.17,-.14,-.24,-.18,-.37,-.29],[-.47,-.5,-.56,-.48,-.51,-.51,-.61,-.59],[-.31,-.29,-.18,-.27,-.22,-.34,-.22,-.35],[.17,.05,.15,.04,.02,-.03,.16,.01],[-1.08,-1.27,-1.12,-1.26,-.98,-1.24,-1.04,-1.18],[-.12,.01,-.07,0,-.12,.02,-.2,-.06],[.28,.22,.28,.23,.34,.23,.39,.16],[-.96,-1.34,-1.48,-1.45,-1.23,-1.39,-1.08,-1.28],[-.78,-.77,-.75,-.79,-.92,-.82],[-.58,-1.03,-.68,-1.06,-.79,-.94,-.73,-.99],[.3,.27,.27,.27,.26,.22,.4,.25],[-.36,-.53,-.45,-.52,-.38,-.64,-.36,-.44],[-.12,-.03,-.27,-.04,0,-.01,-.3,-.11],[-.16,0,-.03,0,.01,-.05,-.15,.01],[-.02,.06,-.04,.08,.09,.08,-.19,.01],[-.36,-.38,-.24,-.46,-.37,-.48,-.23,-.49],[-1.15,-1.34,-1.22,-1.45,-1.32,-1.42,-1.3,-1.39],[-.25,-.26,-.07,-.27,-.33,-.3],[-.83,-.77,-.93,-.82,-.97,-.79,-.96,-.92],[-.77,-.79,-.76,-.8,-.88,-.83],[-1.02,-1.09,-1.08,-1.34,-1.2,-1.23,-1.23,-1.04],[.25,.58,.36,.51,.4,.54,.66,.53],[-.48,-1.01,-.9,-1.13,-.65,-1.04,-.72,-.9],[.04,.42,.05,.42,.23,.37,.21,.38],[.01,-.04,.26,-.04,-.33,-.04,.17,-.03],[-.81,-.98,-.91,-1.02,-.91,-1.06,-.93,-.96],[.44,.43,.13,.39,.45,.45,.33,.37],[-.54,-.68,-.72,-.79,-.64,-.74,-.74,-.72],[-.27,-.54,-.49,-.64,-.51,-.58,-.86,-.65],[-.83,-.89,-.88,-.97,-.68,-1.01,-.75,-.87],[-1.22,-1.27,-1.35,-1.24,-1.24,-1.32,-1.25,-1.43],[-1.05,-1.35,-.92,-1.41,-.84,-1.28,-1.56,-1.51]];
const sevLo=[[-.92,-1,-1.07,-1.13,-1.13,-1.22,-1.22,-1.37],[-1.3,-1.45,-1.07,-1.39,-1.11,-1.45,-1.36,-1.58],[-1.22,-1.37,-.88,-1.26,-.88,-1.32,-.84,-1.3],[-.88,-1.09,-.71,-.88,-.88,-1.18,-.71,-1.07],[-1.9,-1.98,-1.88,-1.99,-1.97,-1.98,-1.72,-1.99],[-1.08,-1.03,-1.15,-1,-1.3,-1.05,-1.12,-1],[-.65,-.75,-.6,-.83,-.53,-.56,-.17,-.8],[-1.76,-1.97,-1.95,-1.98,-1.96,-1.99,-1.82,-1.99],[-1.44,-1.86,-1.65,-1.9,-1.81,-1.96],[-1.36,-1.97,-1.59,-1.95,-1.8,-1.97,-1.61,-1.97],[-.66,-.9,-.87,-.87,-.69,-.94,-.39,-.96],[-1.26,-1.91,-1.23,-1.73,-1.06,-1.88,-.99,-1.66],[-1.14,-1.12,-.65,-.9,-.65,-.97,-.65,-1.19],[-1.51,-1.44,-1.43,-1.37,-1.37,-1.41,-1.43,-1.39],[-.96,-1.01,-1.12,-.83,-.81,-.87,-.58,-.92],[-.96,-1.77,-1.32,-1.84,-1.77,-1.88,-1.1,-1.61],[-1.82,-1.99,-1.84,-2,-1.84,-1.95,-1.99,-1.99],[-1.82,-1.9,-.47,-1.9,-1.8,-1.3],[-1.69,-1.95,-1.79,-1.99,-1.77,-1.9,-1.37,-1.98],[-1.86,-1.93,-1.53,-1.97,-1.82,-1.93],[-1.81,-1.99,-1.93,-1.99,-1.88,-1.99,-1.91,-1.97],[-.87,-.51,-.61,-.54,-.4,-.51,-.14,-.47],[-1.99,-1.99,-1.66,-1.99,-1.73,-1.82,-1.73,-1.99],[-1.3,-.61,-.69,-.65,-.51,-.65,-.58,-.61],[-1.37,-1.52,-.94,-1.44,-1.84,-1.19,-.29,-.87],[-1.44,-1.95,-1.53,-1.99,-1.55,-1.97,-1.9,-1.88],[-.52,-.32,-.94,-.54,-.36,-.52,-.36,-.65],[-1.44,-1.97,-1.84,-1.21,-1.82,-1.91,-1.93,-1.99],[-1.01,-1.97,-1.88,-1.88,-1.86,-1.86,-1.86,-1.98],[-1.84,-1.99,-1.99,-1.19,-1.8,-1.99,-1.73,-1.86],[-1.88,-1.97,-1.99,-1.99,-1.99,-1.99,-1.99,-1.99],[-1.64,-1.99,-1.99,-1.99,-1.97,-1.99,-1.99,-1.99]];
const sevOut=[
[[-1.08,-1.12,-1.47],[-1.2,-1.24,-1.28,-1.32,-1.39,-1.6,-1.65,-1.71,-1.98],[-1.09,-1.39],[-1.18,-1.28,-1.37,-1.43,-1.5,-1.56],[-1.78],[-1.32,-1.35,-1.54,-1.6,-1.71,-1.77,-1.92,-1.95],[-1.61],[-1.39,-1.43,-1.54,-1.58,-1.62,-1.67,-1.87,-1.94]],
[[],[-1.55,-1.58,-1.67,-1.71,-1.75,-1.79],[-1.67,-1.71,-1.97,-1.99],[-1.43,-1.5,-1.56,-1.62,-1.69,-1.75,-1.82,-1.86],[-1.52,-1.58,-1.67],[-1.52,-1.58,-1.65,-1.71,-1.82,-1.92],[-1.69,-1.86],[-1.56,-1.65,-1.75,-1.86,-1.91,-1.98]],
[[-1.3,-1.37],[-1.43,-1.48,-1.54,-1.71,-1.79],[-1.3,-1.44,-1.65,-1.94],[-1.39,-1.43,-1.54,-1.67,-1.75,-1.84,-1.97],[],[-1.56,-1.62,-1.67,-1.77,-1.99],[-1.18,-1.23,-1.37,-1.39,-1.84],[-1.43,-1.6,-1.67,-1.86,-1.89]],
[[-1.73],[-1.09,-1.13,-1.18,-1.22,-1.28,-1.32,-1.41,-1.58,-1.73],[-1.78],[-1.09,-1.13,-1.18,-1.4,-1.54,-1.85],[],[-1.35,-1.45,-1.57,-1.65,-1.75,-1.78,-1.86],[-1.03,-1.41],[-1.13,-1.26,-1.58,-1.6,-1.97]],
[[],[],[],[],[],[],[],[]],
[[-1.75],[-1.03,-1.07,-1.11,-1.18,-1.24,-1.3,-1.35,-1.59,-1.97],[],[-1.03,-1.09,-1.15,-1.22,-1.3,-1.37,-1.41,-1.79,-1.9],[-1.45],[-1.15,-1.34,-1.41,-1.47,-1.54,-1.75,-1.84],[-1.43],[-1.07,-1.11,-1.2,-1.41,-1.45,-1.6]],
[[-.8,-1.2,-1.82],[-.92,-.96,-1.03,-1.07,-1.22,-1.32,-1.47,-1.62,-1.9,-1.99],[-1.3,-1.97],[-.9,-.94,-1,-1.07,-1.45,-1.75,-1.86],[-.96,-1.23],[-.81,-1.03,-1.09,-1.2,-1.37,-1.5,-1.73,-1.86],[-.43,-.51],[-.89,-.94,-1,-1.11,-1.22,-1.26,-1.3,-1.97]],
[[],[],[],[],[],[],[],[]],
[[-1.97],[-1.86,-1.93,-1.95],[-1.86],[-1.96],[],[]],
[[-1.58,-1.66,-1.71,-1.97],[],[-1.77,-1.85],[],[],[],[-1.83],[]],
[[-1.15,-1.31],[-1,-1.04,-1.28,-1.59],[-1.31],[-.94,-1.08,-1.14,-1.18,-1.34,-1.44,-1.5,-1.54,-1.85,-1.96],[],[-1.05,-1.1,-1.19,-1.42,-1.48,-1.53,-1.58],[-.64,-.88],[-.97,-1.03,-1.06,-1.1,-1.14,-1.22,-1.26,-1.3,-1.64,-1.74,-1.91]],
[[-1.34,-1.4,-1.79],[-1.7,-1.73,-1.76,-1.94],[-1.6],[-1.68,-1.76,-1.88,-1.9],[-1.37,-1.58,-1.72,-1.91],[-1.76],[-1.78],[-1.48,-1.56,-1.66,-1.76,-1.89]],
[[-1.46],[-1.14,-1.17,-1.21,-1.25,-1.28,-1.52,-1.55,-1.91,-1.97,-2],[],[-1.16,-1.21,-1.32,-1.41,-1.48,-1.9],[-1.21,-1.71],[-1.06,-1.1,-1.17,-1.21,-1.34,-1.4,-1.55,-1.76,-1.9],[],[-1.28,-1.32,-1.35,-1.39,-1.42,-1.48,-1.73,-1.87]],
[[],[-1.33,-1.44,-1.48,-1.62,-1.81,-1.86,-1.93],[-1.39,-1.49],[-1.31,-1.33,-1.38,-1.5,-1.65],[-1.75],[-1.38,-1.43,-1.48,-1.53,-1.7,-1.91,-1.96,-2],[],[-1.18,-1.22,-1.41,-1.45,-1.97]],
[[-1.28,-1.52],[-.9,-.94,-.99,-1.03,-1.06,-1.12,-1.17,-1.25,-1.35,-1.8],[-1.34],[-.9,-.96,-1.03,-1.1,-1.14,-1.32,-1.37,-1.41,-1.52,-1.57,-1.68,-1.71],[-1.44],[-.96,-1.01,-1.1,-1.14,-1.17,-1.21,-1.32,-1.75,-1.88],[],[-.99,-1.03,-1.08,-1.12,-1.26,-1.32,-1.44,-1.52,-1.57,-1.62]],
[[-1.55,-1.77],[-1.62,-1.65,-1.68,-1.8,-1.89],[-1.32],[-1.75,-1.79,-1.84,-1.9,-1.93,-1.96,-1.99],[-1.51,-1.73,-1.75],[-1.72,-1.82,-1.88],[-1.12,-1.62],[-1.7,-1.73,-1.79,-1.84,-1.88,-1.96]],
[[],[],[],[],[],[],[],[.41,.37]],
[[-1.72],[-1.41,-1.44,-1.53,-1.57,-1.66,-1.75,-1.84,-1.93],[-1.13,-1.32,-1.42],[-1.35,-1.41,-1.44,-1.53,-1.63,-1.97],[],[-1.42,-1.5,-1.56,-1.61,-1.68,-1.71,-1.8,-1.96]],
[[],[],[],[],[],[-1.99],[],[]],
[[],[-1.94],[],[-1.95],[],[]],
[[],[],[],[],[],[],[],[]],
[[-1.88],[-.53,-.58,-.61,-.65,-.7,-1.03,-1.23,-1.37,-1.43,-1.49,-1.96],[],[-.63,-.69,-.76,-.81,-.87,-.92,-.97,-1.14,-1.28,-1.52,-1.95],[-.96,-1.55],[-.56,-.61,-.69,-.76,-.9,-.96,-1.03,-1.06,-1.53,-1.69],[-.78],[-.49,-.6,-.65,-.72,-.94,-.99,-1.06,-1.25,-1.56]],
[[],[],[],[],[-1.84],[],[-1.83],[-1.99]],
[[],[-.65,-.7,-.76,-.83,-.9,-.94,-.99,-1.23,-1.45,-1.74,-1.87,-1.91],[],[-.75,-.87,-.9,-.99,-1.03,-1.08,-1.2,-1.36,-1.48],[-1.66],[-.75,-.92,-.96,-1.03,-1.12,-1.15,-1.43,-1.64,-1.7,-1.91],[-1.52],[-.61,-.65,-.75,-.94,-.97,-1.06,-1.12,-1.17,-1.28,-1.45,-1.99]],
[[],[-1.48,-1.52,-1.63,-1.73,-1.88],[],[-1.44,-1.46,-1.6],[],[-1.46,-1.5,-1.66,-1.68],[-1.22,-1.85,-1.92],[-1.32,-1.35,-1.39,-1.43,-1.61,-1.64,-1.71]],
[[],[],[],[],[],[],[],[]],
[[],[-.7,-.74,-.83,-.87,-1.03,-1.1,-1.15,-1.28,-1.47,-1.9,-1.96],[],[-.69,-.72,-.85,-.96,-1.03,-1.17,-1.63],[-.85],[-.58,-.63,-.69,-.74,-.78,-.85,-.97,-1.06,-1.37,-1.44],[-1.52],[-.69,-.81,-.88,-.96,-1.1,-1.14,-1.3,-1.44]],
[[],[],[],[],[],[],[],[-1.93,-1.97,-2]],
[[-1.67],[-1.97],[],[],[],[],[],[]],
[[],[],[],[],[-1.83],[],[],[-1.88]],
[[],[],[],[],[],[],[],[]],
[[.7],[],[.61],[],[.75,-1.69],[],[],[]]
];

const NS='http://www.w3.org/2000/svg';
const root=document.getElementById('chart');
function el(parent,tag,attrs,name,text){
  const e=document.createElementNS(NS,tag);
  for(const k in attrs)e.setAttribute(k,attrs[k]);
  
  
  if(text!==undefined)e.textContent=text;
  parent.appendChild(e);
  return e;
}
const BORDER='#5f5f5f',WHISK='#5a5a5a',BOXLINE='#565656',MEDIAN='#333333',GRID='#e9e9e9',TICK='#333333',TXT='#1a1a1a';
const GROUP_W=41.6;

function drawPanel(p){
  const g=el(root,'g',{},p.key+'-panel');
  const yOf=e=>p.y0-p.decade*e;
  const xOf=i=>p.x0+p.step*i;
  p.ticks.forEach(t=>{
    const y=yOf(Math.log10(t));
    el(g,'line',{x1:p.left+3,x2:p.right-3,y1:y,y2:y,stroke:GRID,'stroke-width':2},'gridline-'+t);
    el(g,'line',{x1:p.left-6,x2:p.left,y1:y,y2:y,stroke:TICK,'stroke-width':1.6},'y-tick-'+t);
    el(g,'text',{x:p.left-10,y:y+6,'text-anchor':'end','font-size':17.5,fill:TXT},'y-tick-label-'+t,String(t));
  });
  catchments.forEach((c,i)=>{
    const gg=el(g,'g',{},'catchment-'+i);
    const cx=xOf(i);
    const n=p.hi[i].length;
    const w=GROUP_W/n;
    for(let m=0;m<n;m++){
      const bx=cx+(m-(n-1)/2)*w;
      const col=modelColors[m];
      const conv=p.raw?(v=>yOf(Math.log10(v))):yOf;
      (p.out[i][m]||[]).forEach(v=>{
        el(gg,'circle',{cx:bx,cy:conv(v),r:1.9,fill:'#111'},'outlier');
      });
      el(gg,'line',{x1:bx,x2:bx,y1:conv(p.hi[i][m]),y2:conv(p.lo[i][m]),stroke:WHISK,'stroke-width':1.6},'whisker');
      const yt=conv(p.q3[i][m]),yb=conv(p.q1[i][m]);
      el(gg,'rect',{x:bx-w/2+.3,y:yt,width:w-.6,height:Math.max(yb-yt,.5),fill:col,stroke:BOXLINE,'stroke-width':1},'box');
      const ym=conv(p.med[i][m]);
      el(gg,'line',{x1:bx-w/2+.3,x2:bx+w/2-.3,y1:ym,y2:ym,stroke:MEDIAN,'stroke-width':1.8},'median');
    }
    el(g,'line',{x1:cx,x2:cx,y1:p.bottom,y2:p.bottom+6,stroke:TICK,'stroke-width':1.6},'x-tick');
    el(g,'text',{transform:'translate('+(cx+6)+','+(p.bottom+10.5)+') rotate(-90)','text-anchor':'end','font-size':16.4,fill:TXT},'x-tick-label',c);
  });
  el(g,'rect',{x:p.left,y:p.top,width:p.right-p.left,height:p.bottom-p.top,fill:'none',stroke:BORDER,'stroke-width':1.8},'panel-border');
  el(g,'text',{transform:'translate(40,'+((p.top+p.bottom)/2)+') rotate(-90)','text-anchor':'middle','font-size':21,fill:TXT},'y-axis-title',p.title);
  el(g,'text',{x:16,y:p.letterY,'font-size':22,fill:TXT},'panel-letter',p.letter);
  const lg=el(g,'g',{},'legend');
  models.forEach((m,k)=>{
    const y=p.legendY+k*32.9;
    const e=el(lg,'g',{},'legend-entry');
    el(e,'line',{x1:1921.6,x2:1921.6,y1:y-14.2,y2:y+14.2,stroke:WHISK,'stroke-width':1.4},'legend-key-whisker');
    el(e,'rect',{x:1909,y:y-8.3,width:25,height:16.6,fill:modelColors[k],stroke:BOXLINE,'stroke-width':1.2},'legend-key-box');
    el(e,'line',{x1:1909,x2:1934,y1:y,y2:y,stroke:MEDIAN,'stroke-width':1.6},'legend-key-median');
    el(e,'text',{x:1949,y:y+6,'font-size':16.6,fill:TXT},'legend-label',m);
  });
}

drawPanel({key:'duration',title:'Duration (months)',letter:'(a)',letterY:34,raw:true,left:87.7,right:1873.3,top:23,bottom:440.7,y0:422,decade:194.7,x0:120.3,step:55.5,ticks:durationTicks,hi:durHi,q3:durQ3,med:durMed,q1:durQ1,lo:durLo,out:durOut,legendY:122});
drawPanel({key:'intensity',title:'Intensity (cumecs)',letter:'(b)',letterY:648,raw:false,left:92.3,right:1873.3,top:632.7,bottom:1050.5,y0:807.7,decade:97.3,x0:125,step:55.35,ticks:intensityTicks,hi:intHi,q3:intQ3,med:intMed,q1:intQ1,lo:intLo,out:intOut,legendY:732});
drawPanel({key:'severity',title:'Severity (cumecs)',letter:'(c)',letterY:1249,raw:false,left:92.3,right:1873.3,top:1243,bottom:1660,y0:1456.7,decade:92.4,x0:125,step:55.35,ticks:severityTicks,hi:sevHi,q3:sevQ3,med:sevMed,q1:sevQ1,lo:sevLo,out:sevOut,legendY:1342});
</script>
</body>
</html>
